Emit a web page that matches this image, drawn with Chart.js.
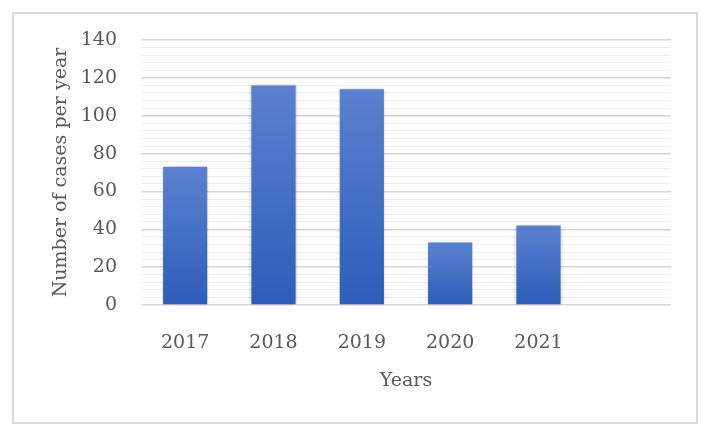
<!DOCTYPE html>
<html>
<head>
<meta charset="utf-8">
<script src="https://cdn.jsdelivr.net/npm/chart.js@4"></script>
<style>
  body { margin: 0; background: #fff; }
  #wrap { position: relative; width: 708px; height: 433px; }
  #frame { position: absolute; left: 12px; top: 12px; width: 682px; height: 408px; border: 2px solid #d9d9d9; pointer-events: none; }
</style>
</head>
<body>
<div id="wrap">
  <canvas id="myChart" width="708" height="433"></canvas>
  <div id="frame"></div>
</div>
<script>
// data
var years = ['2017', '2018', '2019', '2020', '2021', ''];
var cases = [73, 116, 114, 33, 42, null];
var yMin = 0, yMax = 140, minorStep = 4, majorStep = 20;

var fontFamily = "'Palatino Linotype', 'Book Antiqua', Palatino, 'DejaVu Serif', serif";
var textColor = '#595959';

// soft shadow round the bars, like the office chart
var barShadow = {
    id: 'barShadow',
    beforeDatasetsDraw: function(chart) {
        var c = chart.ctx;
        c.save();
        c.shadowColor = 'rgba(0,0,0,0.28)';
        c.shadowBlur = 3;
        c.shadowOffsetX = 0;
        c.shadowOffsetY = 0;
    },
    afterDatasetsDraw: function(chart) {
        chart.ctx.restore();
    }
};

var ctx = document.getElementById('myChart').getContext('2d');
var myChart = new Chart(ctx, {
    type: 'bar',
    data: {
        labels: years,
        datasets: [{
            label: 'Number of cases per year',
            data: cases,
            backgroundColor: function(c) {
                var chart = c.chart;
                if (!chart.chartArea || c.raw == null) return '#4472c4';
                var y = chart.scales.y;
                var top = y.getPixelForValue(c.raw);
                var bot = y.getPixelForValue(0);
                var g = chart.ctx.createLinearGradient(0, top, 0, bot);
                g.addColorStop(0, '#5a81d0');
                g.addColorStop(1, '#2d5db8');
                return g;
            },
            borderWidth: 0,
            barPercentage: 0.5,
            categoryPercentage: 1
        }]
    },
    options: {
        responsive: false,
        animation: false,
        layout: { padding: { left: 48, right: 37, top: 40, bottom: 41 } },
        plugins: {
            legend: { display: false },
            tooltip: { enabled: false }
        },
        scales: {
            x: {
                grid: { display: false },
                border: { display: false },
                ticks: { color: textColor, font: { family: fontFamily, size: 19 }, padding: 19 },
                title: { display: true, text: 'Years', color: textColor, font: { family: fontFamily, size: 19 }, padding: 0 },
                afterFit: function(scale) { scale.height = 87; }
            },
            y: {
                min: yMin,
                max: yMax,
                border: { display: false },
                grid: {
                    drawTicks: false,
                    color: function(c) { return c.tick.value % majorStep === 0 ? '#d6d6d6' : '#ececec'; },
                    lineWidth: function(c) { return c.tick.value % majorStep === 0 ? 1.5 : 1; }
                },
                ticks: {
                    stepSize: minorStep,
                    autoSkip: false,
                    padding: 24,
                    color: textColor,
                    font: { family: fontFamily, size: 19 },
                    callback: function(v) { return v % majorStep === 0 ? v : ''; }
                },
                title: { display: true, text: 'Number of cases per year', color: textColor, font: { family: fontFamily, size: 19 }, padding: { top: 2, bottom: 0 } },
                afterFit: function(scale) { scale.width = 93; }
            }
        }
    },
    plugins: [barShadow]
});
</script>
</body>
</html>
